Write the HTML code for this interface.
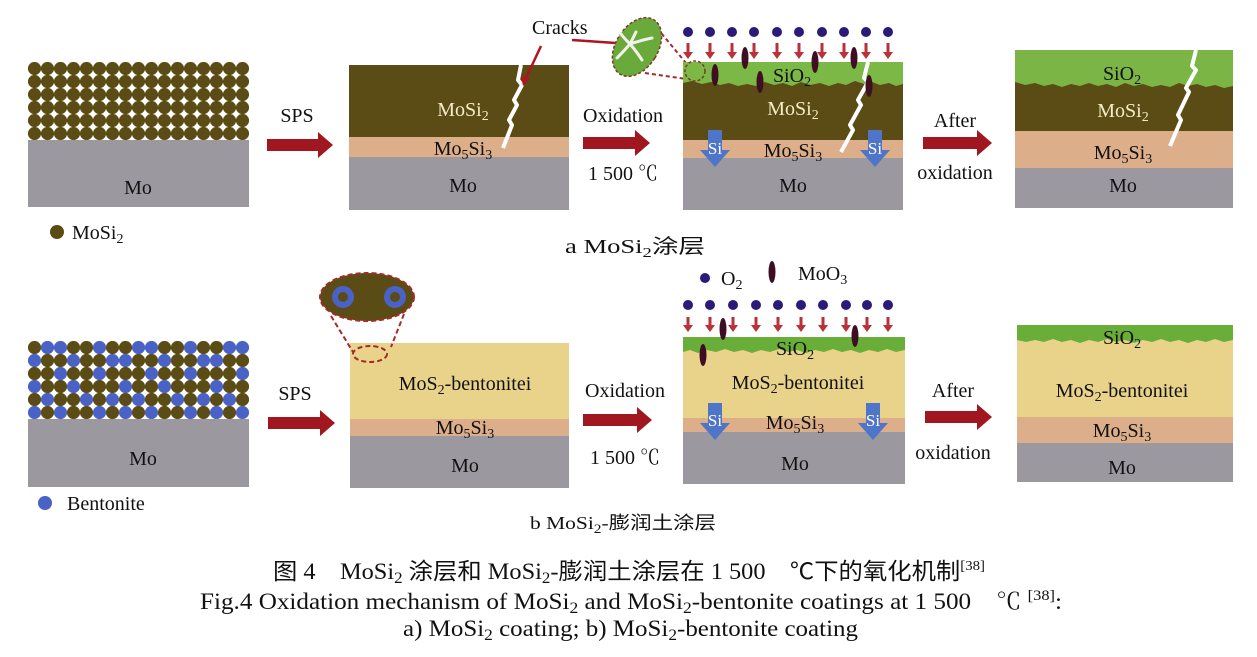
<!DOCTYPE html>
<html><head><meta charset="utf-8">
<style>
html,body{margin:0;padding:0;background:#fff;}
svg{display:block;}
text{font-family:"Liberation Serif","Noto Serif CJK SC",serif;}
.cj{font-family:"Liberation Serif","Noto Sans CJK SC",sans-serif;}
</style></head><body>
<svg width="1257" height="657" viewBox="0 0 1257 657" xmlns="http://www.w3.org/2000/svg">
<defs>
<pattern id="pt" x="28" y="62" width="13" height="13" patternUnits="userSpaceOnUse">
<circle cx="6.5" cy="6.5" r="6.6" fill="#5b4b14"/>
</pattern>
<pattern id="pb" x="28" y="341" width="91" height="78" patternUnits="userSpaceOnUse">
<g fill="#5b4b14">
<circle cx="6.5" cy="6.5" r="6.6"/><circle cx="45.5" cy="6.5" r="6.6"/><circle cx="58.5" cy="6.5" r="6.6"/><circle cx="84.5" cy="6.5" r="6.6"/>
<circle cx="19.5" cy="19.5" r="6.6"/><circle cx="32.5" cy="19.5" r="6.6"/><circle cx="58.5" cy="19.5" r="6.6"/><circle cx="71.5" cy="19.5" r="6.6"/>
<circle cx="6.5" cy="32.5" r="6.6"/><circle cx="19.5" cy="32.5" r="6.6"/><circle cx="45.5" cy="32.5" r="6.6"/><circle cx="58.5" cy="32.5" r="6.6"/><circle cx="84.5" cy="32.5" r="6.6"/>
<circle cx="19.5" cy="45.5" r="6.6"/><circle cx="32.5" cy="45.5" r="6.6"/><circle cx="58.5" cy="45.5" r="6.6"/><circle cx="71.5" cy="45.5" r="6.6"/><circle cx="84.5" cy="45.5" r="6.6"/>
<circle cx="6.5" cy="58.5" r="6.6"/><circle cx="32.5" cy="58.5" r="6.6"/><circle cx="45.5" cy="58.5" r="6.6"/><circle cx="71.5" cy="58.5" r="6.6"/>
<circle cx="19.5" cy="71.5" r="6.6"/><circle cx="45.5" cy="71.5" r="6.6"/><circle cx="58.5" cy="71.5" r="6.6"/><circle cx="84.5" cy="71.5" r="6.6"/>
</g>
<g fill="#4a62c6">
<circle cx="19.5" cy="6.5" r="6.6"/><circle cx="32.5" cy="6.5" r="6.6"/><circle cx="71.5" cy="6.5" r="6.6"/>
<circle cx="6.5" cy="19.5" r="6.6"/><circle cx="45.5" cy="19.5" r="6.6"/><circle cx="84.5" cy="19.5" r="6.6"/>
<circle cx="32.5" cy="32.5" r="6.6"/><circle cx="71.5" cy="32.5" r="6.6"/>
<circle cx="6.5" cy="45.5" r="6.6"/><circle cx="45.5" cy="45.5" r="6.6"/>
<circle cx="19.5" cy="58.5" r="6.6"/><circle cx="58.5" cy="58.5" r="6.6"/><circle cx="84.5" cy="58.5" r="6.6"/>
<circle cx="6.5" cy="71.5" r="6.6"/><circle cx="32.5" cy="71.5" r="6.6"/><circle cx="71.5" cy="71.5" r="6.6"/>
</g>
</pattern>
</defs>

<!-- ================= TOP ROW ================= -->
<rect x="28" y="62" width="221" height="78" fill="url(#pt)"/>
<rect x="28" y="140" width="221" height="67" fill="#9c98a0"/>
<text x="138" y="194" font-size="20" text-anchor="middle" fill="#111">Mo</text>
<circle cx="57" cy="232" r="7" fill="#5b4b14"/>
<text x="72" y="239" font-size="20" fill="#111">MoSi<tspan font-size="14" dy="4">2</tspan></text>

<text x="297" y="122" font-size="20" text-anchor="middle" fill="#111">SPS</text>
<polygon points="267,139 318,139 318,132 333,145 318,158 318,151 267,151" fill="#a0171f"/>

<rect x="349" y="65" width="220" height="72" fill="#5b4b14"/>
<rect x="349" y="137" width="220" height="20" fill="#dcae8a"/>
<rect x="349" y="157" width="220" height="53" fill="#9c98a0"/>
<polyline points="521,65 518,80 522,85 514,100 517,105 509,120 512,125 503,148" fill="none" stroke="#fff" stroke-width="4" stroke-linejoin="round"/>
<text x="463" y="116" font-size="20" text-anchor="middle" fill="#f3ecc5">MoSi<tspan font-size="14" dy="4">2</tspan></text>
<text x="463" y="155" font-size="20" text-anchor="middle" fill="#111">Mo<tspan font-size="14" dy="4">5</tspan><tspan dy="-4">Si</tspan><tspan font-size="14" dy="4">3</tspan></text>
<text x="463" y="192" font-size="20" text-anchor="middle" fill="#111">Mo</text>

<text x="623" y="122" font-size="20" text-anchor="middle" fill="#111">Oxidation</text>
<polygon points="583,137 635,137 635,130 650,143 635,156 635,149 583,149" fill="#a0171f"/>
<text x="623" y="180" font-size="20" text-anchor="middle" fill="#111">1 500 ℃</text>

<text x="532" y="34" font-size="20" fill="#111">Cracks</text>
<line x1="572" y1="40" x2="630" y2="44" stroke="#b0141e" stroke-width="2.5"/>
<circle cx="630" cy="44" r="2.5" fill="#b0141e"/>
<line x1="541" y1="46" x2="526" y2="78" stroke="#b0141e" stroke-width="2.5"/>
<polygon points="521,76 530,79 523,86" fill="#b0141e"/>

<line x1="657" y1="28" x2="686" y2="63" stroke="#a52a2a" stroke-width="2" stroke-dasharray="4 3"/>
<line x1="645" y1="73" x2="700" y2="81" stroke="#a52a2a" stroke-width="2" stroke-dasharray="4 3"/>
<ellipse cx="637" cy="47" rx="21" ry="32" transform="rotate(32 637 47)" fill="#6aaa3a" stroke="#7a3a2a" stroke-width="1.5" stroke-dasharray="3 2"/>
<g fill="none" stroke="#f2f2ea" stroke-width="3" stroke-linecap="round">
<path d="M630,44 Q633,38 636,32"/>
<path d="M630,44 Q624,38 621,34"/>
<path d="M630,44 Q642,40 652,38"/>
<path d="M630,44 Q623,52 617,58"/>
<path d="M630,44 Q637,52 642,60"/>
</g>

<rect x="683" y="62" width="220" height="78" fill="#5b4b14"/>
<path d="M683,62 H903 V84 L896,86 L889,83 L880,85 L872,82 L864,84 L855,81 L846,85 L838,83 L829,86 L820,83 L810,85 L801,82 L792,86 L783,83 L774,85 L765,82 L756,86 L747,84 L738,86 L729,83 L720,85 L711,82 L702,84 L692,81 L683,83 Z" fill="#7cb846"/>
<rect x="683" y="140" width="220" height="18" fill="#dcae8a"/>
<rect x="683" y="158" width="220" height="52" fill="#9c98a0"/>
<circle cx="695" cy="71" r="10" fill="none" stroke="#7a3a2a" stroke-width="1.5" stroke-dasharray="3 2"/>
<polyline points="868,62 864,78 868,82 858,100 861,105 850,125 853,130 841,152" fill="none" stroke="#fff" stroke-width="4" stroke-linejoin="round"/>
<text x="792" y="82" font-size="20" text-anchor="middle" fill="#111">SiO<tspan font-size="14" dy="4">2</tspan></text>
<text x="793" y="115" font-size="20" text-anchor="middle" fill="#f3ecc5">MoSi<tspan font-size="14" dy="4">2</tspan></text>
<text x="793" y="157" font-size="20" text-anchor="middle" fill="#111">Mo<tspan font-size="14" dy="4">5</tspan><tspan dy="-4">Si</tspan><tspan font-size="14" dy="4">3</tspan></text>
<text x="793" y="192" font-size="20" text-anchor="middle" fill="#111">Mo</text>
<polygon points="708,130 722,130 722,150 730,150 715,167 700,150 708,150" fill="#4f75c8"/>
<text x="715" y="154" font-size="17" text-anchor="middle" fill="#fff">Si</text>
<polygon points="868,130 882,130 882,150 890,150 875,167 860,150 868,150" fill="#4f75c8"/>
<text x="875" y="154" font-size="17" text-anchor="middle" fill="#fff">Si</text>
<g fill="#2b1a78">
<circle cx="688" cy="32" r="5"/><circle cx="710" cy="32" r="5"/><circle cx="732" cy="32" r="5"/><circle cx="754" cy="32" r="5"/><circle cx="777" cy="32" r="5"/><circle cx="799" cy="32" r="5"/><circle cx="822" cy="32" r="5"/><circle cx="844" cy="32" r="5"/><circle cx="866" cy="32" r="5"/><circle cx="888" cy="32" r="5"/>
</g>
<g fill="#b8323a">
<path d="M686.5,43 h3 v9 h3.5 l-5,7 l-5,-7 h3.5 z"/>
<path d="M708.5,43 h3 v9 h3.5 l-5,7 l-5,-7 h3.5 z"/>
<path d="M730.5,43 h3 v9 h3.5 l-5,7 l-5,-7 h3.5 z"/>
<path d="M752.5,43 h3 v9 h3.5 l-5,7 l-5,-7 h3.5 z"/>
<path d="M775.5,43 h3 v9 h3.5 l-5,7 l-5,-7 h3.5 z"/>
<path d="M797.5,43 h3 v9 h3.5 l-5,7 l-5,-7 h3.5 z"/>
<path d="M820.5,43 h3 v9 h3.5 l-5,7 l-5,-7 h3.5 z"/>
<path d="M842.5,43 h3 v9 h3.5 l-5,7 l-5,-7 h3.5 z"/>
<path d="M864.5,43 h3 v9 h3.5 l-5,7 l-5,-7 h3.5 z"/>
<path d="M886.5,43 h3 v9 h3.5 l-5,7 l-5,-7 h3.5 z"/>
</g>
<g fill="#3e0f22">
<ellipse cx="715" cy="75" rx="3.5" ry="11"/>
<ellipse cx="745" cy="58" rx="3.5" ry="11"/>
<ellipse cx="760" cy="82" rx="3.5" ry="11"/>
<ellipse cx="815" cy="62" rx="3.5" ry="11"/>
<ellipse cx="854" cy="58" rx="3.5" ry="11"/>
<ellipse cx="869" cy="86" rx="3.5" ry="11"/>
</g>

<text x="955" y="127" font-size="20" text-anchor="middle" fill="#111">After</text>
<polygon points="923,137 977,137 977,130 992,143 977,156 977,149 923,149" fill="#a0171f"/>
<text x="955" y="179" font-size="20" text-anchor="middle" fill="#111">oxidation</text>

<rect x="1015" y="50" width="218" height="81" fill="#5b4b14"/>
<path d="M1015,50 H1233 V86 L1224,88 L1215,85 L1206,87 L1197,84 L1188,86 L1179,83 L1170,87 L1161,85 L1152,87 L1143,84 L1134,86 L1125,83 L1116,87 L1107,84 L1098,86 L1089,83 L1080,86 L1071,84 L1062,87 L1053,84 L1044,86 L1035,83 L1025,85 L1015,82 Z" fill="#7ab545"/>
<rect x="1015" y="131" width="218" height="37" fill="#dcae8a"/>
<rect x="1015" y="168" width="218" height="40" fill="#9c98a0"/>
<polyline points="1196,50 1192,66 1196,70 1186,88 1189,92 1178,115 1181,120 1170,146" fill="none" stroke="#fff" stroke-width="4" stroke-linejoin="round"/>
<text x="1122" y="80" font-size="20" text-anchor="middle" fill="#111">SiO<tspan font-size="14" dy="4">2</tspan></text>
<text x="1123" y="117" font-size="20" text-anchor="middle" fill="#f3ecc5">MoSi<tspan font-size="14" dy="4">2</tspan></text>
<text x="1123" y="159" font-size="20" text-anchor="middle" fill="#111">Mo<tspan font-size="14" dy="4">5</tspan><tspan dy="-4">Si</tspan><tspan font-size="14" dy="4">3</tspan></text>
<text x="1123" y="192" font-size="20" text-anchor="middle" fill="#111">Mo</text>

<text x="565" y="253" font-size="20" fill="#111" class="cj" textLength="140" lengthAdjust="spacingAndGlyphs">a  MoSi<tspan font-size="14" dy="4">2</tspan><tspan dy="-4">涂层</tspan></text>

<!-- ================= BOTTOM ROW ================= -->
<rect x="28" y="341" width="221" height="78" fill="url(#pb)"/>
<rect x="28" y="419" width="221" height="68" fill="#9c98a0"/>
<text x="143" y="465" font-size="20" text-anchor="middle" fill="#111">Mo</text>
<circle cx="45" cy="503" r="7" fill="#4a62c6"/>
<text x="67" y="510" font-size="20" fill="#111">Bentonite</text>

<text x="295" y="400" font-size="20" text-anchor="middle" fill="#111">SPS</text>
<polygon points="268,417 320,417 320,410 335,423 320,436 320,429 268,429" fill="#a0171f"/>

<rect x="350" y="343" width="219" height="76" fill="#e9d38a"/>
<rect x="350" y="419" width="219" height="17" fill="#dcae8a"/>
<rect x="350" y="436" width="219" height="52" fill="#9c98a0"/>
<line x1="331" y1="316" x2="353" y2="352" stroke="#a52a2a" stroke-width="2" stroke-dasharray="5 3"/>
<line x1="404" y1="314" x2="391" y2="347" stroke="#a52a2a" stroke-width="2" stroke-dasharray="5 3"/>
<ellipse cx="370" cy="354" rx="17" ry="8" fill="none" stroke="#a52a2a" stroke-width="2" stroke-dasharray="5 3"/>
<ellipse cx="367" cy="297" rx="47" ry="24" fill="#5b4b14" stroke="#a52a2a" stroke-width="2" stroke-dasharray="5 3"/>
<circle cx="343" cy="297" r="8" fill="none" stroke="#4a62c6" stroke-width="6"/>
<circle cx="395" cy="297" r="8" fill="none" stroke="#4a62c6" stroke-width="6"/>
<text x="465" y="390" font-size="20" text-anchor="middle" fill="#111">MoS<tspan font-size="14" dy="4">2</tspan><tspan dy="-4">-bentonitei</tspan></text>
<text x="465" y="434" font-size="20" text-anchor="middle" fill="#111">Mo<tspan font-size="14" dy="4">5</tspan><tspan dy="-4">Si</tspan><tspan font-size="14" dy="4">3</tspan></text>
<text x="465" y="472" font-size="20" text-anchor="middle" fill="#111">Mo</text>

<text x="625" y="397" font-size="20" text-anchor="middle" fill="#111">Oxidation</text>
<polygon points="583,414 637,414 637,407 652,420 637,433 637,426 583,426" fill="#a0171f"/>
<text x="625" y="464" font-size="20" text-anchor="middle" fill="#111">1 500 ℃</text>

<circle cx="705" cy="278" r="5" fill="#2b1a78"/>
<text x="721" y="285" font-size="20" fill="#111">O<tspan font-size="14" dy="4">2</tspan></text>
<ellipse cx="772" cy="272" rx="3.5" ry="11" fill="#3e0f22"/>
<text x="798" y="280" font-size="20" fill="#111">MoO<tspan font-size="14" dy="4">3</tspan></text>

<rect x="683" y="337" width="222" height="81" fill="#e9d38a"/>
<path d="M683,337 H905 V350 L896,352 L887,349 L878,352 L869,350 L860,353 L851,350 L842,352 L833,349 L824,352 L815,350 L806,353 L797,350 L788,352 L779,349 L770,352 L761,350 L752,353 L743,350 L734,352 L725,349 L716,352 L707,350 L698,353 L690,350 L683,352 Z" fill="#6aae3a"/>
<rect x="683" y="418" width="222" height="14" fill="#dcae8a"/>
<rect x="683" y="432" width="222" height="52" fill="#9c98a0"/>
<text x="795" y="355" font-size="20" text-anchor="middle" fill="#111">SiO<tspan font-size="14" dy="4">2</tspan></text>
<text x="798" y="389" font-size="20" text-anchor="middle" fill="#111">MoS<tspan font-size="14" dy="4">2</tspan><tspan dy="-4">-bentonitei</tspan></text>
<text x="795" y="429" font-size="20" text-anchor="middle" fill="#111">Mo<tspan font-size="14" dy="4">5</tspan><tspan dy="-4">Si</tspan><tspan font-size="14" dy="4">3</tspan></text>
<text x="795" y="470" font-size="20" text-anchor="middle" fill="#111">Mo</text>
<polygon points="708,403 722,403 722,423 730,423 715,440 700,423 708,423" fill="#4f75c8"/>
<text x="715" y="426" font-size="17" text-anchor="middle" fill="#fff">Si</text>
<polygon points="866,403 880,403 880,423 888,423 873,440 858,423 866,423" fill="#4f75c8"/>
<text x="873" y="426" font-size="17" text-anchor="middle" fill="#fff">Si</text>
<g fill="#2b1a78">
<circle cx="688" cy="305" r="5"/><circle cx="710" cy="305" r="5"/><circle cx="733" cy="305" r="5"/><circle cx="756" cy="305" r="5"/><circle cx="778" cy="305" r="5"/><circle cx="801" cy="305" r="5"/><circle cx="823" cy="305" r="5"/><circle cx="846" cy="305" r="5"/><circle cx="867" cy="305" r="5"/><circle cx="888" cy="305" r="5"/>
</g>
<g fill="#b8323a">
<path d="M686.5,317 h3 v8 h3.5 l-5,7 l-5,-7 h3.5 z"/>
<path d="M708.5,317 h3 v8 h3.5 l-5,7 l-5,-7 h3.5 z"/>
<path d="M731.5,317 h3 v8 h3.5 l-5,7 l-5,-7 h3.5 z"/>
<path d="M754.5,317 h3 v8 h3.5 l-5,7 l-5,-7 h3.5 z"/>
<path d="M776.5,317 h3 v8 h3.5 l-5,7 l-5,-7 h3.5 z"/>
<path d="M799.5,317 h3 v8 h3.5 l-5,7 l-5,-7 h3.5 z"/>
<path d="M821.5,317 h3 v8 h3.5 l-5,7 l-5,-7 h3.5 z"/>
<path d="M844.5,317 h3 v8 h3.5 l-5,7 l-5,-7 h3.5 z"/>
<path d="M865.5,317 h3 v8 h3.5 l-5,7 l-5,-7 h3.5 z"/>
<path d="M886.5,317 h3 v8 h3.5 l-5,7 l-5,-7 h3.5 z"/>
</g>
<g fill="#3e0f22">
<ellipse cx="723" cy="329" rx="3.5" ry="11"/>
<ellipse cx="703" cy="355" rx="3.5" ry="11"/>
<ellipse cx="855" cy="336" rx="3.5" ry="11"/>
</g>

<text x="953" y="397" font-size="20" text-anchor="middle" fill="#111">After</text>
<polygon points="925,411 977,411 977,404 992,417 977,430 977,423 925,423" fill="#a0171f"/>
<text x="953" y="459" font-size="20" text-anchor="middle" fill="#111">oxidation</text>

<rect x="1017" y="325" width="216" height="92" fill="#e9d38a"/>
<path d="M1017,325 H1233 V340 L1224,342 L1215,339 L1206,342 L1197,340 L1188,343 L1179,340 L1170,342 L1161,339 L1152,342 L1143,340 L1134,343 L1125,340 L1116,342 L1107,339 L1098,342 L1089,340 L1080,343 L1071,340 L1062,342 L1053,339 L1044,342 L1035,340 L1026,342 L1017,340 Z" fill="#6aae3a"/>
<rect x="1017" y="417" width="216" height="26" fill="#dcae8a"/>
<rect x="1017" y="443" width="216" height="39" fill="#9c98a0"/>
<text x="1122" y="344" font-size="20" text-anchor="middle" fill="#111">SiO<tspan font-size="14" dy="4">2</tspan></text>
<text x="1122" y="397" font-size="20" text-anchor="middle" fill="#111">MoS<tspan font-size="14" dy="4">2</tspan><tspan dy="-4">-bentonitei</tspan></text>
<text x="1122" y="437" font-size="20" text-anchor="middle" fill="#111">Mo<tspan font-size="14" dy="4">5</tspan><tspan dy="-4">Si</tspan><tspan font-size="14" dy="4">3</tspan></text>
<text x="1122" y="474" font-size="20" text-anchor="middle" fill="#111">Mo</text>

<text x="530" y="529" font-size="18" fill="#111" class="cj" textLength="186" lengthAdjust="spacingAndGlyphs">b  MoSi<tspan font-size="13" dy="4">2</tspan><tspan dy="-4">-膨润土涂层</tspan></text>

<text x="273" y="579" font-size="23" fill="#111" class="cj" textLength="712" lengthAdjust="spacingAndGlyphs">图 4　MoSi<tspan font-size="16" dy="4">2</tspan><tspan dy="-4"> 涂层和 MoSi</tspan><tspan font-size="16" dy="4">2</tspan><tspan dy="-4">-膨润土涂层在 1 500　℃下的氧化机制</tspan><tspan font-size="14" dy="-9">[38]</tspan></text>
<text x="200" y="609" font-size="23" fill="#111" textLength="862" lengthAdjust="spacingAndGlyphs">Fig.4 Oxidation mechanism of MoSi<tspan font-size="16" dy="4">2</tspan><tspan dy="-4">  and MoSi</tspan><tspan font-size="16" dy="4">2</tspan><tspan dy="-4">-bentonite coatings at 1 500　℃ </tspan><tspan font-size="15" dy="-9">[38]</tspan><tspan dy="9">:</tspan></text>
<text x="403" y="636" font-size="23" fill="#111" textLength="455" lengthAdjust="spacingAndGlyphs">a) MoSi<tspan font-size="16" dy="4">2</tspan><tspan dy="-4">  coating; b) MoSi</tspan><tspan font-size="16" dy="4">2</tspan><tspan dy="-4">-bentonite coating</tspan></text>
</svg>
</body></html>
